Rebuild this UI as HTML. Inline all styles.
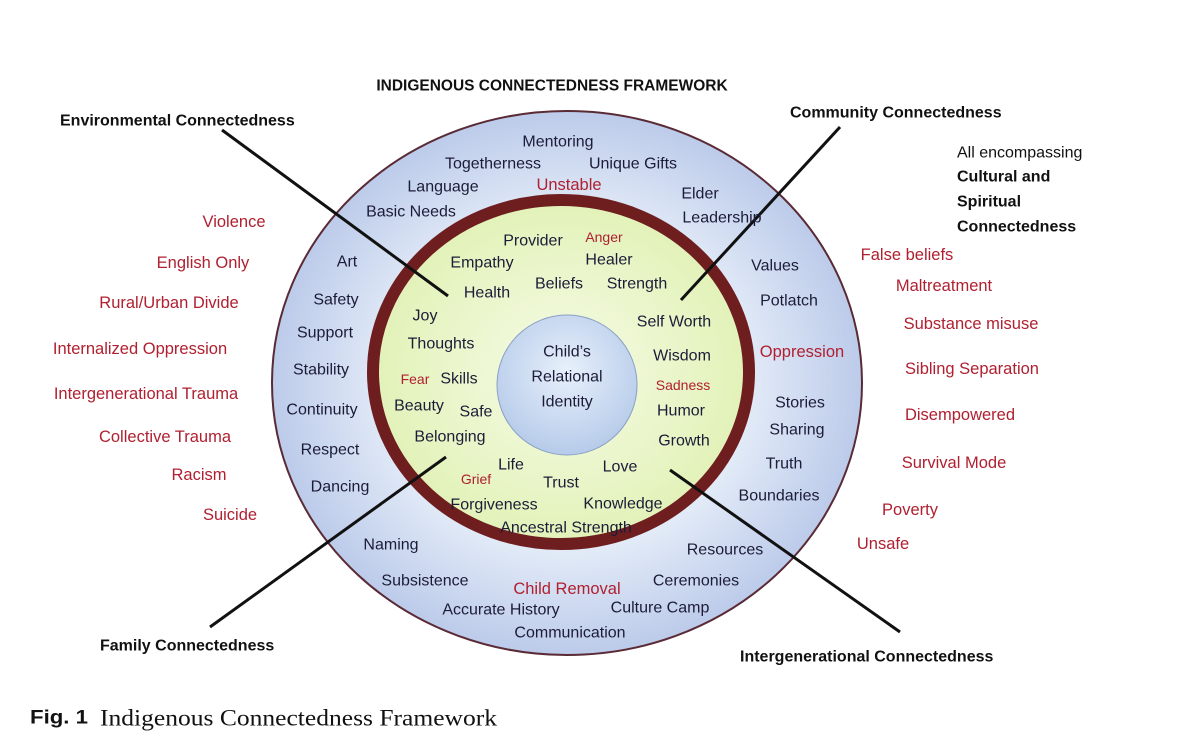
<!DOCTYPE html>
<html><head><meta charset="utf-8"><style>
html,body{margin:0;padding:0;background:#fff;}
svg{display:block;}
text{font-family:"Liberation Sans",sans-serif;}
.w{font-size:16px;fill:#1c1c38;text-anchor:middle;dominant-baseline:central;}
.r{font-size:16.5px;fill:#b02030;text-anchor:middle;dominant-baseline:central;}
.rs{font-size:14px;fill:#b02030;text-anchor:middle;dominant-baseline:central;}
.b{font-size:16px;font-weight:bold;fill:#111;dominant-baseline:central;}
</style></head><body>
<svg width="1192" height="754" viewBox="0 0 1192 754" xmlns="http://www.w3.org/2000/svg">
<defs>
<radialGradient id="og" cx="50%" cy="50%" r="50%"><stop offset="0.6" stop-color="#e4ecf8"/><stop offset="1" stop-color="#bccbea"/></radialGradient>
<radialGradient id="gg" cx="50%" cy="50%" r="50%"><stop offset="0" stop-color="#f6fbe6"/><stop offset="1" stop-color="#e2f2b8"/></radialGradient>
<radialGradient id="cg" cx="50%" cy="40%" r="60%"><stop offset="0" stop-color="#e8f0fb"/><stop offset="1" stop-color="#b6cbea"/></radialGradient>
</defs>
<rect width="1192" height="754" fill="#fff"/>
<ellipse cx="567" cy="383" rx="295" ry="272" fill="url(#og)" stroke="#5a2a35" stroke-width="2"/>
<ellipse cx="561" cy="372" rx="188" ry="172" fill="url(#gg)" stroke="#6e1e1e" stroke-width="12"/>
<ellipse cx="567" cy="385" rx="70" ry="70" fill="url(#cg)" stroke="#8aa0c4" stroke-width="1"/>
<g stroke="#111" stroke-width="3" fill="none">
<line x1="222" y1="130" x2="448" y2="296"/>
<line x1="840" y1="127" x2="681" y2="300"/>
<line x1="210" y1="627" x2="446" y2="457"/>
<line x1="900" y1="632" x2="670" y2="470"/>
</g>
<text x="552" y="86" class="b" text-anchor="middle" style="font-size:15.5px">INDIGENOUS CONNECTEDNESS FRAMEWORK</text>
<text x="60" y="121" class="b">Environmental Connectedness</text>
<text x="790" y="113" class="b">Community Connectedness</text>
<text x="957" y="153" class="b" style="font-weight:normal">All encompassing</text>
<text x="957" y="177" class="b">Cultural and</text>
<text x="957" y="202" class="b">Spiritual</text>
<text x="957" y="227" class="b">Connectedness</text>
<text x="100" y="646" class="b">Family Connectedness</text>
<text x="740" y="657" class="b">Intergenerational Connectedness</text>
<text x="234" y="222" class="r">Violence</text><text x="203" y="263" class="r">English Only</text>
<text x="169" y="303" class="r">Rural/Urban Divide</text><text x="140" y="349" class="r">Internalized Oppression</text>
<text x="146" y="394" class="r">Intergenerational Trauma</text><text x="165" y="437" class="r">Collective Trauma</text>
<text x="199" y="475" class="r">Racism</text><text x="230" y="515" class="r">Suicide</text>
<text x="907" y="255" class="r">False beliefs</text><text x="944" y="286" class="r">Maltreatment</text>
<text x="971" y="324" class="r">Substance misuse</text><text x="972" y="369" class="r">Sibling Separation</text>
<text x="960" y="415" class="r">Disempowered</text><text x="954" y="463" class="r">Survival Mode</text>
<text x="910" y="510" class="r">Poverty</text><text x="883" y="544" class="r">Unsafe</text>
<text x="569" y="185" class="r">Unstable</text><text x="802" y="352" class="r">Oppression</text>
<text x="567" y="589" class="r">Child Removal</text>
<text x="604" y="237" class="rs">Anger</text><text x="415" y="379" class="rs">Fear</text>
<text x="683" y="385" class="rs">Sadness</text><text x="476" y="479" class="rs">Grief</text>
<text x="558" y="142" class="w">Mentoring</text><text x="493" y="164" class="w">Togetherness</text>
<text x="633" y="164" class="w">Unique Gifts</text><text x="443" y="187" class="w">Language</text>
<text x="700" y="194" class="w">Elder</text><text x="411" y="212" class="w">Basic Needs</text>
<text x="722" y="218" class="w">Leadership</text><text x="347" y="262" class="w">Art</text>
<text x="336" y="300" class="w">Safety</text><text x="325" y="333" class="w">Support</text>
<text x="321" y="370" class="w">Stability</text><text x="322" y="410" class="w">Continuity</text>
<text x="330" y="450" class="w">Respect</text><text x="340" y="487" class="w">Dancing</text>
<text x="775" y="266" class="w">Values</text><text x="789" y="301" class="w">Potlatch</text>
<text x="800" y="403" class="w">Stories</text><text x="797" y="430" class="w">Sharing</text>
<text x="784" y="464" class="w">Truth</text><text x="779" y="496" class="w">Boundaries</text>
<text x="391" y="545" class="w">Naming</text><text x="425" y="581" class="w">Subsistence</text>
<text x="501" y="610" class="w">Accurate History</text><text x="570" y="633" class="w">Communication</text>
<text x="696" y="581" class="w">Ceremonies</text><text x="660" y="608" class="w">Culture Camp</text>
<text x="725" y="550" class="w">Resources</text>
<text x="533" y="241" class="w">Provider</text><text x="482" y="263" class="w">Empathy</text>
<text x="609" y="260" class="w">Healer</text><text x="559" y="284" class="w">Beliefs</text>
<text x="637" y="284" class="w">Strength</text><text x="487" y="293" class="w">Health</text>
<text x="425" y="316" class="w">Joy</text><text x="674" y="322" class="w">Self Worth</text>
<text x="441" y="344" class="w">Thoughts</text><text x="682" y="356" class="w">Wisdom</text>
<text x="459" y="379" class="w">Skills</text><text x="419" y="406" class="w">Beauty</text>
<text x="476" y="412" class="w">Safe</text><text x="681" y="411" class="w">Humor</text>
<text x="450" y="437" class="w">Belonging</text><text x="684" y="441" class="w">Growth</text>
<text x="511" y="465" class="w">Life</text><text x="620" y="467" class="w">Love</text>
<text x="561" y="483" class="w">Trust</text><text x="494" y="505" class="w">Forgiveness</text>
<text x="623" y="504" class="w">Knowledge</text><text x="566" y="528" class="w">Ancestral Strength</text>
<text x="567" y="352" class="w">Child’s</text><text x="567" y="377" class="w">Relational</text>
<text x="567" y="402" class="w">Identity</text>
<text x="30" y="718" class="b" style="font-size:19px" textLength="58" lengthAdjust="spacingAndGlyphs">Fig. 1</text>
<text x="100" y="718" style="font-family:'Liberation Serif',serif;font-size:23px;fill:#111;dominant-baseline:central" textLength="397" lengthAdjust="spacingAndGlyphs">Indigenous Connectedness Framework</text>
</svg>
</body></html>
